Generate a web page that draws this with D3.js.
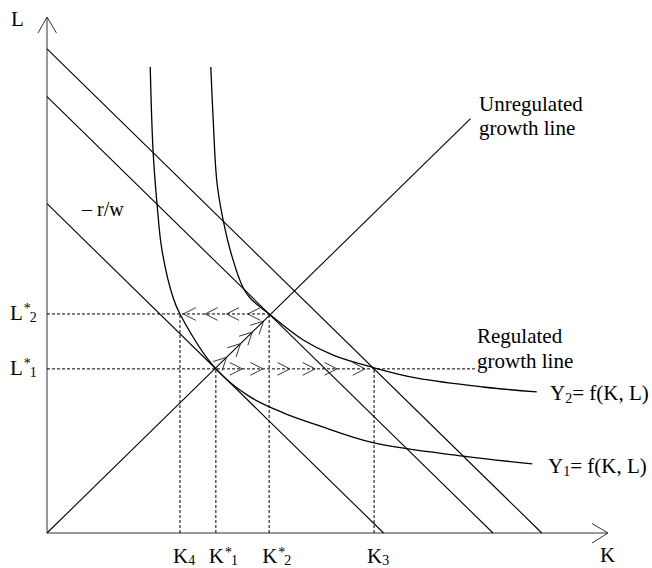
<!DOCTYPE html>
<html>
<head>
<meta charset="utf-8">
<script src="https://cdn.jsdelivr.net/npm/d3@7"></script>
<style>
  html, body { margin: 0; padding: 0; background: #fff; }
  svg { display: block; }
  text { font-family: "Liberation Serif", "Times New Roman", serif; fill: #000; }
</style>
</head>
<body>
<svg id="chart" width="652" height="568"></svg>
<script>
// Equilibrium input levels
const kStar = [30.1, 39.6];          // K*1, K*2
const lStar = [29.9, 39.9];          // L*1, L*2
const k3 = 58.3;
const k4 = 23.7;

// Isocost lines K + L = c (slope -r/w)
const isocostTotals = [60, 79.5, 88.2];

// Growth lines
const unregulatedEnd = 75.5;         // L = K ray, drawn up to here
const regulatedEnd = 76.6;           // horizontal at L*1, drawn up to here

// Isoquants (K, L)
const y1Points = [
  [18.4, 84.9], [18.9, 69.8], [19.6, 60.1], [20.5, 51.5], [22.5, 42.8],
  [23.7, 39.9], [30.1, 29.9], [36.2, 24.8], [42.1, 21.9], [48.1, 19.7],
  [58.3, 16.4], [74.2, 14.0], [86.5, 12.6]
];
const y2Points = [
  [29.2, 84.9], [29.6, 75.8], [30.3, 63.8], [31.4, 57.0], [33.0, 50.3],
  [34.9, 44.8], [36.2, 42.8], [39.6, 39.9], [45.6, 35.2], [51.0, 32.4],
  [58.3, 30.1], [66.0, 28.2], [77.7, 26.6], [87.3, 25.7]
];

// Adjustment-path chevrons
const leftArrowK = [24.3, 28.2, 32.0, 35.8];           // along L*2, pointing left
const rightArrowK = [34.8, 38.5, 43.3, 47.8, 51.7, 56.7]; // along L*1, pointing right
const diagArrowK = [32.0, 34.5, 36.6, 38.6];           // along L = K, pointing up

// Axis tick labels
const kTicks = [
  { base: "K", sup: "",  sub: "4", value: k4 },
  { base: "K", sup: "*", sub: "1", value: kStar[0] },
  { base: "K", sup: "*", sub: "2", value: kStar[1] },
  { base: "K", sup: "",  sub: "3", value: k3 }
];
const lTicks = [
  { base: "L", sup: "*", sub: "2", value: lStar[1] },
  { base: "L", sup: "*", sub: "1", value: lStar[0] }
];

const svg = d3.select("#chart");
const x = d3.scaleLinear().domain([0, 100]).range([47, 608]);
const y = d3.scaleLinear().domain([0, 94]).range([533, 17]);

const line = d3.line().x(d => x(d[0])).y(d => y(d[1]));

// Axes with open arrowheads
const axisG = svg.append("g").attr("stroke", "#333").attr("fill", "none").attr("stroke-width", 1);
axisG.append("line").attr("x1", x(0)).attr("y1", y(0)).attr("x2", x(0)).attr("y2", y(94));
axisG.append("line").attr("x1", x(0)).attr("y1", y(0)).attr("x2", x(100)).attr("y2", y(0));
axisG.append("path").attr("d", `M${x(0) - 9},${y(94) + 16}L${x(0)},${y(94)}L${x(0) + 9.5},${y(94) + 16}`);
axisG.append("path").attr("d", `M${x(100) - 16},${y(0) - 9.5}L${x(100)},${y(0)}L${x(100) - 16},${y(0) + 10}`);

// Dashed guide lines
const dashed = svg.append("g").attr("stroke", "#000").attr("stroke-width", 1)
  .attr("stroke-dasharray", "3,2").attr("fill", "none");
const guides = [
  [[0, lStar[1]], [kStar[1], lStar[1]]],
  [[0, lStar[0]], [regulatedEnd, lStar[0]]],
  [[k4, 0], [k4, lStar[1]]],
  [[kStar[0], 0], [kStar[0], lStar[0]]],
  [[kStar[1], 0], [kStar[1], lStar[1]]],
  [[k3, 0], [k3, lStar[0]]]
];
dashed.selectAll("path").data(guides).join("path").attr("d", line);

// Isocost lines
const solid = svg.append("g").attr("stroke", "#000").attr("stroke-width", 1.1).attr("fill", "none");
solid.selectAll("path.iso").data(isocostTotals).join("path").attr("class", "iso")
  .attr("d", c => line([[0, c], [c, 0]]));

// Unregulated growth line
solid.append("path").attr("d", line([[0, 0], [unregulatedEnd, unregulatedEnd]]));

// Isoquants
const curve = d3.line().x(d => x(d[0])).y(d => y(d[1])).curve(d3.curveCatmullRom.alpha(0.5));
solid.append("path").attr("d", curve(y1Points)).attr("stroke-width", 1.3);
solid.append("path").attr("d", curve(y2Points)).attr("stroke-width", 1.3);

// Chevrons: tip at p, pointing along screen direction (dx, dy)
function chevron(px, py, dx, dy) {
  const len = 14, ang = 27 * Math.PI / 180;
  const n = Math.hypot(dx, dy); dx /= n; dy /= n;
  const bx = -dx, by = -dy;
  const r = a => [bx * Math.cos(a) - by * Math.sin(a), bx * Math.sin(a) + by * Math.cos(a)];
  const a1 = r(ang), a2 = r(-ang);
  return `M${px + a1[0] * len},${py + a1[1] * len}L${px},${py}L${px + a2[0] * len},${py + a2[1] * len}`;
}
const chev = svg.append("g").attr("stroke", "#222").attr("stroke-width", 0.9).attr("fill", "none");
chev.selectAll("path.l").data(leftArrowK).join("path").attr("class", "l")
  .attr("d", k => chevron(x(k), y(lStar[1]), -1, 0));
chev.selectAll("path.r").data(rightArrowK).join("path").attr("class", "r")
  .attr("d", k => chevron(x(k), y(lStar[0]), 1, 0));
chev.selectAll("path.d").data(diagArrowK).join("path").attr("class", "d")
  .attr("d", k => chevron(x(k), y(k), x(1) - x(0), y(1) - y(0)));

// Axis titles
svg.append("text").attr("x", 11).attr("y", 26).attr("font-size", 21).text("L");
svg.append("text").attr("x", 600).attr("y", 562).attr("font-size", 21).text("K");

// Tick labels with superscript star and subscript index
function subLabel(sel, d, supDy) {
  sel.append("tspan").text(d.base);
  if (d.sup) {
    sel.append("tspan").attr("font-size", 14).attr("dy", supDy).attr("dx", 1).text(d.sup);
    sel.append("tspan").attr("font-size", 14).attr("dy", -supDy + 2).attr("dx", -1).text(d.sub);
  } else {
    sel.append("tspan").attr("font-size", 14).attr("dy", 2).text(d.sub);
  }
}
kTicks.forEach(d => {
  const t = svg.append("text").attr("x", x(d.value) - 7).attr("y", 563).attr("font-size", 21);
  subLabel(t, d, -6);
});
lTicks.forEach(d => {
  const t = svg.append("text").attr("x", 10).attr("y", y(d.value) + 6).attr("font-size", 21);
  subLabel(t, d, -7);
});

// Curve and line labels
function yLabel(idx, px, py) {
  const t = svg.append("text").attr("x", px).attr("y", py).attr("font-size", 21);
  t.append("tspan").text("Y");
  t.append("tspan").attr("font-size", 14).attr("dy", 3).text(idx);
  t.append("tspan").attr("dy", -3).text("= f(K, L)");
}
yLabel("2", 550, 400);
yLabel("1", 548, 473);

svg.append("text").attr("x", 479).attr("y", 111).attr("font-size", 21).text("Unregulated");
svg.append("text").attr("x", 479).attr("y", 135).attr("font-size", 21).text("growth line");
svg.append("text").attr("x", 477).attr("y", 343).attr("font-size", 21).text("Regulated");
svg.append("text").attr("x", 477).attr("y", 368).attr("font-size", 21).text("growth line");

svg.append("text").attr("x", 82).attr("y", 216).attr("font-size", 20).text("– r/w");
</script>
</body>
</html>
